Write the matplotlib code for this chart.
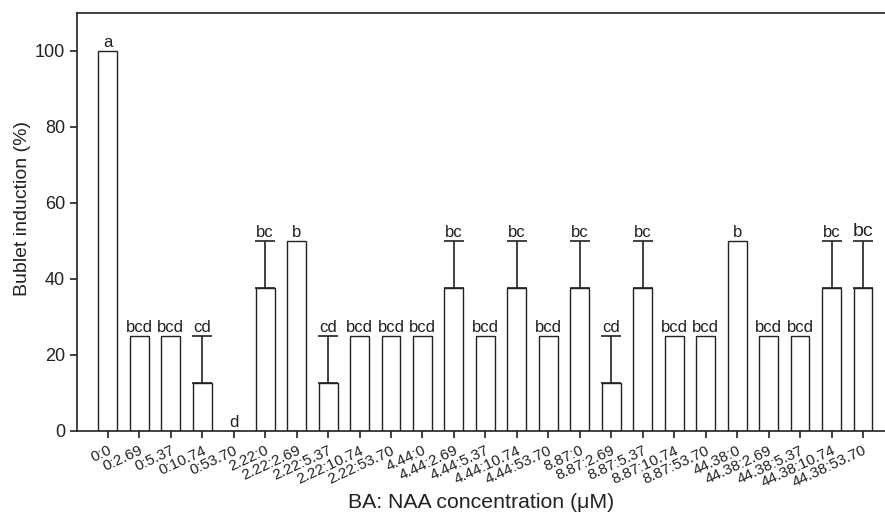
import numpy as np
import matplotlib.pyplot as plt

plt.rcParams['font.family'] = ['Liberation Sans', 'DejaVu Sans']

# BA:NAA combinations (uM)
treatments = ['0:0', '0:2.69', '0:5.37', '0:10.74', '0:53.70',
              '2.22:0', '2.22:2.69', '2.22:5.37', '2.22:10.74', '2.22:53.70',
              '4.44:0', '4.44:2.69', '4.44:5.37', '4.44:10.74', '4.44:53.70',
              '8.87:0', '8.87:2.69', '8.87:5.37', '8.87:10.74', '8.87:53.70',
              '44.38:0', '44.38:2.69', '44.38:5.37', '44.38:10.74', '44.38:53.70']
induction = [100, 25, 25, 12.5, 0,
             37.5, 50, 12.5, 25, 25,
             25, 37.5, 25, 37.5, 25,
             37.5, 12.5, 37.5, 25, 25,
             50, 25, 25, 37.5, 37.5]
se = [0, 0, 0, 12.5, 0,
      12.5, 0, 12.5, 0, 0,
      0, 12.5, 0, 12.5, 0,
      12.5, 12.5, 12.5, 0, 0,
      0, 0, 0, 12.5, 12.5]
letters = ['a', 'bcd', 'bcd', 'cd', 'd',
           'bc', 'b', 'cd', 'bcd', 'bcd',
           'bcd', 'bc', 'bcd', 'bc', 'bcd',
           'bc', 'cd', 'bc', 'bcd', 'bcd',
           'b', 'bcd', 'bcd', 'bc', 'bc']

x = np.arange(len(treatments))
y = np.array(induction)
err = np.array(se)

fig = plt.figure(figsize=(8.85, 5.16), dpi=100)
ax = fig.add_axes([0.087, 0.165, 0.913, 0.81])

ax.bar(x, y, width=0.6, color='white', edgecolor='#222222', linewidth=1, zorder=2)
has_err = err > 0
ax.errorbar(x[has_err], y[has_err], yerr=[np.zeros(has_err.sum()), err[has_err]],
            fmt='none', ecolor='#222222', elinewidth=1.2, capsize=7, capthick=1.2, zorder=1)

# significance letters above each bar / error cap
for i in range(len(x)):
    size = 14 if i == len(x) - 1 else 12
    ax.text(x[i], y[i] + err[i] + 0.3, letters[i], ha='center', va='bottom',
            fontsize=size, color='#222222')

ax.set_xlim(-0.98, 24.7)
ax.set_ylim(0, 110)
ax.set_yticks([0, 20, 40, 60, 80, 100])
ax.set_xticks(x)
ax.set_xticklabels(treatments, rotation=25, ha='right', rotation_mode='anchor',
                   fontsize=11, color='#222222')
ax.tick_params(axis='y', labelsize=13, length=5, width=1.2, colors='#222222')
ax.tick_params(axis='x', length=5, width=1.2, pad=4, colors='#222222')
ax.spines['right'].set_visible(False)
for s in ['left', 'bottom', 'top']:
    ax.spines[s].set_linewidth(1.2)
    ax.spines[s].set_color('#222222')

ax.set_ylabel('Bublet induction (%)', fontsize=14, color='#222222')
ax.yaxis.set_label_coords(-0.057, 0.533)
ax.set_xlabel('BA: NAA concentration (\u03bcM)', fontsize=15.3, color='#222222')
ax.xaxis.set_label_coords(0.5, -0.148)

fig.savefig('out.png', dpi=100)
